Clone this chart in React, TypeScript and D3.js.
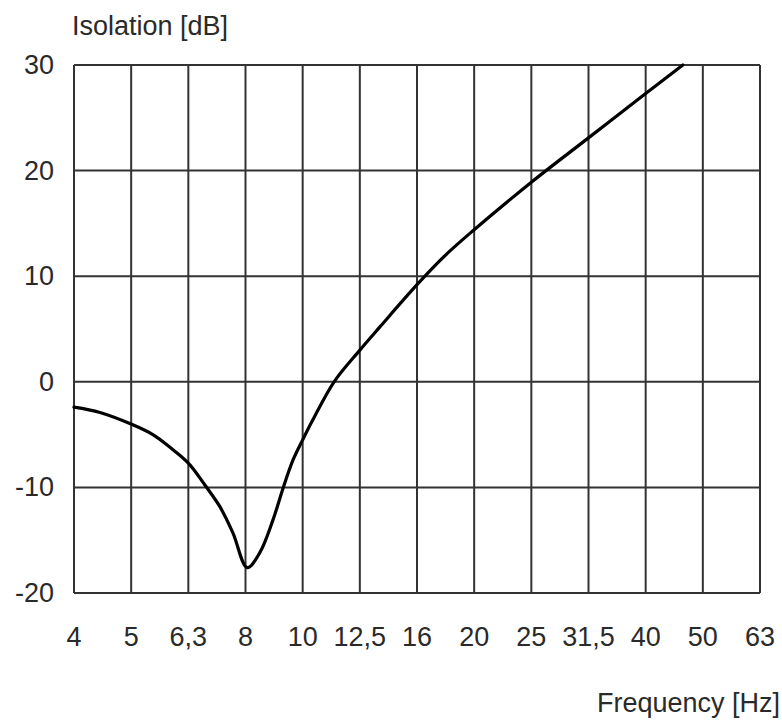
import React from "react";
import * as d3 from "d3";

// Third-octave band labels (nominal) shown on the x axis
const bandLabels = ["4", "5", "6,3", "8", "10", "12,5", "16", "20", "25", "31,5", "40", "50", "63"];
// Exact band exponents: f = 10^(0.6 + 0.1*k)
const bandExponents = [0.6, 0.7, 0.8, 0.9, 1.0, 1.1, 1.2, 1.3, 1.4, 1.5, 1.6, 1.7, 1.8];

const yTicks = [-20, -10, 0, 10, 20, 30];

// Curve: frequency (Hz) and isolation (dB)
const curveFreq = [
  3.98, 4.42, 5.01, 5.47, 5.86, 6.31, 6.75, 7.16, 7.55, 8.0, 8.41, 8.87, 9.25, 9.62,
  10.0, 10.42, 11.35, 12.59, 13.65, 15.85, 17.78, 19.95, 25.12, 31.62, 39.81, 46.24
];
const curveDb = [
  -2.4, -2.9, -4.0, -5.0, -6.2, -7.7, -9.8, -11.8, -14.3, -17.6, -16.2, -13.1, -10.0, -7.4,
  -5.5, -3.6, 0.0, 3.0, 5.2, 9.2, 12.0, 14.4, 18.9, 23.1, 27.3, 30.0
];

const margin = { left: 74, right: 22, top: 65, bottom: 128 };
const W = 782;
const H = 721;

export default function App() {
  const x = d3
    .scaleLog()
    .domain([Math.pow(10, 0.6), Math.pow(10, 1.8)])
    .range([margin.left, W - margin.right]);
  const y = d3.scaleLinear().domain([-20, 30]).range([H - margin.bottom, margin.top]);

  const bandFreqs = bandExponents.map((e) => Math.pow(10, e));
  const pts: [number, number][] = curveFreq.map((f, i) => [f, curveDb[i]]);
  const line = d3
    .line<[number, number]>()
    .x((d) => x(d[0]))
    .y((d) => y(d[1]))
    .curve(d3.curveCatmullRom.alpha(0.5));

  const x0 = x.range()[0];
  const x1 = x.range()[1];
  const y0 = y.range()[0];
  const y1 = y.range()[1];
  const gridColor = "#333";
  const textColor = "#2a2a2a";
  const font = "'Liberation Sans', Arial, sans-serif";
  const fs = 27;

  return (
    <svg
      width={W}
      height={H}
      style={{ position: "absolute", left: 0, top: 0, background: "#fff" }}
      fontFamily={font}
    >
      <rect x={0} y={0} width={W} height={H} fill="#fff" />
      {/* vertical grid */}
      {bandFreqs.map((f, i) => (
        <line key={"v" + i} x1={x(f)} x2={x(f)} y1={y0} y2={y1} stroke={gridColor} strokeWidth={2} />
      ))}
      {/* horizontal grid */}
      {yTicks.map((t) => (
        <line key={"h" + t} x1={x0} x2={x1} y1={y(t)} y2={y(t)} stroke={gridColor} strokeWidth={2} />
      ))}
      {/* curve */}
      <path d={line(pts) || ""} fill="none" stroke="#000" strokeWidth={3.2} strokeLinejoin="round" strokeLinecap="round" />
      {/* y tick labels */}
      {yTicks.map((t) => (
        <text
          key={"yl" + t}
          x={54}
          y={y(t)}
          textAnchor="end"
          dominantBaseline="central"
          fontSize={fs}
          fill={textColor}
        >
          {String(t)}
        </text>
      ))}
      {/* x tick labels */}
      {bandFreqs.map((f, i) => (
        <text
          key={"xl" + i}
          x={x(f)}
          y={637}
          textAnchor="middle"
          dominantBaseline="central"
          fontSize={fs}
          fill={textColor}
        >
          {bandLabels[i]}
        </text>
      ))}
      <text x={72} y={26} dominantBaseline="central" fontSize={fs} fill={textColor}>
        Isolation [dB]
      </text>
      <text x={780} y={703} textAnchor="end" dominantBaseline="central" fontSize={fs} fill={textColor}>
        Frequency [Hz]
      </text>
    </svg>
  );
}
